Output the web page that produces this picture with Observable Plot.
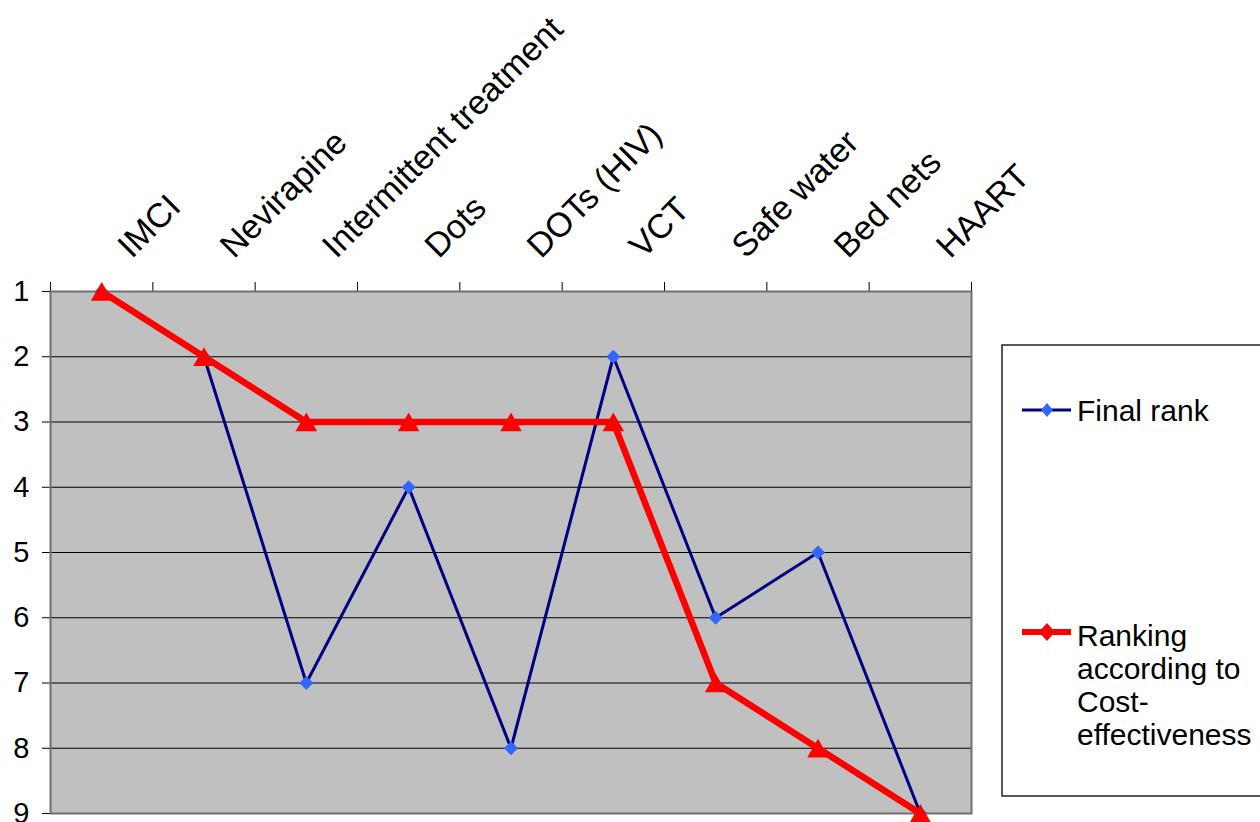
<!DOCTYPE html>
<html>
<head>
<meta charset="utf-8">
<script src="https://cdn.jsdelivr.net/npm/d3@7"></script>
<script src="https://cdn.jsdelivr.net/npm/@observablehq/plot@0.6"></script>
<style>
  html, body { margin: 0; padding: 0; background: #fff; }
  #chart { position: relative; width: 1260px; height: 822px; overflow: hidden; }
</style>
</head>
<body>
<div id="chart"></div>
<script>
const categories = ["IMCI", "Nevirapine", "Intermittent treatment", "Dots", "DOTs (HIV)", "VCT", "Safe water", "Bed nets", "HAART"];
const finalRank = [1, 2, 7, 4, 8, 2, 6, 5, 9];
const costRank = [1, 2, 3, 3, 3, 3, 7, 8, 9];
const yTicks = [1, 2, 3, 4, 5, 6, 7, 8, 9];
const seriesNames = ["Final rank", "Ranking according to Cost-effectiveness"];
const legendLines = [["Final rank"], ["Ranking", "according to", "Cost-", "effectiveness"]];

const rows = categories.map((name, i) => ({i, name, final: finalRank[i], cost: costRank[i]}));
const boundaries = categories.map((_, i) => i - 0.5).concat([categories.length - 0.5]);

const FONT = "'Liberation Sans', Arial, Helvetica, sans-serif";

const chart = Plot.plot({
  width: 1260,
  height: 822,
  marginLeft: 50,
  marginRight: 289,
  marginTop: 291,
  marginBottom: 9,
  style: {fontFamily: FONT, fontSize: "29px", background: "white", color: "black", overflow: "visible"},
  x: {domain: [-0.5, categories.length - 0.5], axis: "top", ticks: boundaries, tickSize: 10, tickFormat: () => "", label: null},
  y: {domain: [1, 9], reverse: true, ticks: yTicks, tickSize: 8, tickPadding: 13, tickFormat: () => "", label: null},
  marks: [
    Plot.frame({fill: "#c0c0c0"}),
    Plot.ruleY(yTicks, {stroke: "#000", strokeWidth: 1}),
    Plot.frame({stroke: "#707070", strokeWidth: 2}),
    Plot.line(rows, {x: "i", y: "final", stroke: "#000080", strokeWidth: 3}),
    Plot.dot(rows, {x: "i", y: "final", symbol: "diamond2", r: 6.3, fill: "#3366FF", stroke: "none"}),
    Plot.line(rows, {x: "i", y: "cost", stroke: "#FF0000", strokeWidth: 6.5}),
    Plot.dot(rows, {x: "i", y: "cost", symbol: "triangle", r: 8, fill: "#FF0000", stroke: "none", dy: 3}),
    Plot.text(yTicks, {y: d => d, text: d => String(d), frameAnchor: "left", textAnchor: "end", dx: -21, fontSize: 29, fill: "#000"}),
    Plot.text(rows, {x: "i", text: "name", frameAnchor: "top", textAnchor: "start", lineAnchor: "bottom", rotate: -45, dx: 30, dy: -32, fontSize: 34, fill: "#000"})
  ]
});

document.getElementById("chart").appendChild(chart);

// Legend (drawn into the same SVG)
const svg = d3.select(chart);
const lg = svg.append("g").attr("font-family", FONT).attr("font-size", 30).attr("text-anchor", "start");
lg.append("rect").attr("x", 1002).attr("y", 345).attr("width", 320).attr("height", 451)
  .attr("fill", "white").attr("stroke", "#222").attr("stroke-width", 1.5);

const swatches = [
  {color: "#000080", marker: "#3366FF", width: 3, y: 410, hw: 6, hh: 7, base: 421},
  {color: "#FF0000", marker: "#FF0000", width: 6, y: 632, hw: 8, hh: 9, base: 646}
];
swatches.forEach((s, k) => {
  lg.append("line").attr("x1", 1022).attr("x2", 1071).attr("y1", s.y).attr("y2", s.y)
    .attr("stroke", s.color).attr("stroke-width", s.width);
  lg.append("path")
    .attr("d", `M${1047},${s.y - s.hh}L${1047 + s.hw},${s.y}L${1047},${s.y + s.hh}L${1047 - s.hw},${s.y}Z`)
    .attr("fill", s.marker);
  const t = lg.append("text").attr("x", 1077).attr("y", s.base).attr("fill", "#000").attr("text-anchor", "start");
  legendLines[k].forEach((line, j) => {
    t.append("tspan").attr("x", 1077).attr("y", s.base + j * 33).text(line);
  });
});
</script>
</body>
</html>
